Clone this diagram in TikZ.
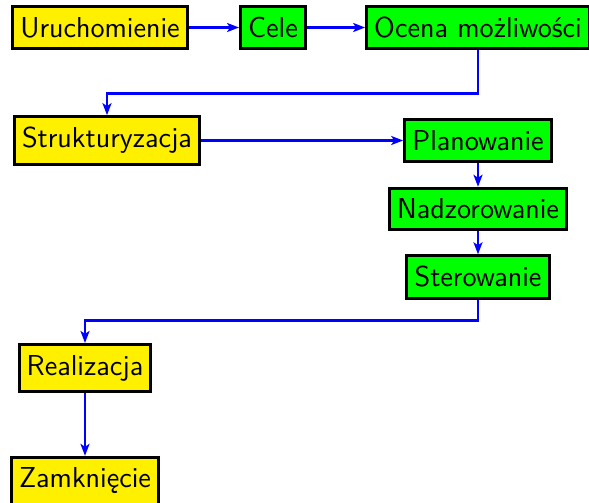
\documentclass[tikz,border=0pt]{standalone}
\usepackage{fontspec}
\usetikzlibrary{arrows.meta}
\definecolor{phase}{RGB}{255,240,0}
\definecolor{steer}{RGB}{0,255,0}
\definecolor{flowblue}{RGB}{0,0,255}

\begin{document}
\begin{tikzpicture}[x=0.5pt,y=-0.5pt,font=\sffamily\fontsize{14.4}{17}\selectfont,
    >={Stealth[length=6pt,width=4.5pt,inset=1.5pt]},line join=miter,
    phasebox/.style={draw=black,line width=1.5pt,fill=phase,inner xsep=3.8pt,inner ysep=5.3pt},
    steerbox/.style={draw=black,line width=1.5pt,fill=steer,inner xsep=3.8pt,inner ysep=5.3pt},
    flow/.style={flowblue,line width=1.4pt,->}]
  \useasboundingbox (0,0) rectangle (589,503);

  % top row
  \node[phasebox] (uru) at (100,27.5) {Uruchomienie};
  \node[steerbox] (cele) at (273,27.5) {Cele};
  \node[steerbox] (ocena) at (478,27.5) {Ocena możliwości};

  \node[phasebox] (struk) at (107,140.5) {Strukturyzacja};
  \node[steerbox] (plan) at (478,140.5) {Planowanie};
  \node[steerbox] (nadz) at (478,209) {Nadzorowanie};
  \node[steerbox] (ster) at (478,277) {Sterowanie};

  \node[phasebox] (real) at (85,368) {Realizacja};
  \node[phasebox] (zamk) at (85,481) {Zamknięcie};

  \draw[flow] (uru) -- (cele);
  \draw[flow] (cele) -- (ocena);
  \draw[flow] (ocena.south) -- ++(0,43) -| (struk.north);
  \draw[flow] (struk) -- (plan);
  \draw[flow] (plan) -- (nadz);
  \draw[flow] (nadz) -- (ster);
  \draw[flow] (ster.south) -- ++(0,21) -| (real.north);
  \draw[flow] (real) -- (zamk);
\end{tikzpicture}
\end{document}
